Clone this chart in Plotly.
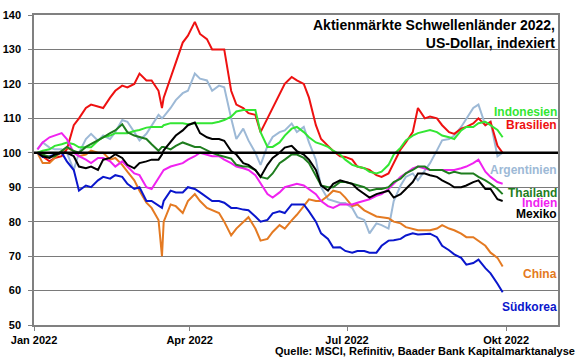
import plotly.graph_objects as go

dates = ["2022-01-03", "2022-01-06", "2022-01-10", "2022-01-13", "2022-01-17", "2022-01-20", "2022-01-24", "2022-01-27", "2022-01-31",
         "2022-02-03", "2022-02-07", "2022-02-10", "2022-02-14", "2022-02-17", "2022-02-21", "2022-02-24", "2022-02-28",
         "2022-03-03", "2022-03-07", "2022-03-10", "2022-03-14", "2022-03-16", "2022-03-17", "2022-03-21", "2022-03-24", "2022-03-28", "2022-03-31",
         "2022-04-04", "2022-04-07", "2022-04-11", "2022-04-14", "2022-04-18", "2022-04-21", "2022-04-25", "2022-04-28",
         "2022-05-02", "2022-05-05", "2022-05-09", "2022-05-12", "2022-05-16", "2022-05-19", "2022-05-23", "2022-05-26", "2022-05-30",
         "2022-06-02", "2022-06-06", "2022-06-09", "2022-06-13", "2022-06-16", "2022-06-20", "2022-06-23", "2022-06-27", "2022-06-30",
         "2022-07-04", "2022-07-07", "2022-07-11", "2022-07-14", "2022-07-18", "2022-07-21", "2022-07-25", "2022-07-28",
         "2022-08-01", "2022-08-04", "2022-08-08", "2022-08-11", "2022-08-15", "2022-08-18", "2022-08-22", "2022-08-25", "2022-08-29",
         "2022-09-01", "2022-09-05", "2022-09-08", "2022-09-12", "2022-09-15", "2022-09-19", "2022-09-22", "2022-09-26", "2022-09-29"]

brasilien = [100, 99, 97.5, 98.5, 99, 101, 108, 110, 113,
             114, 113.5, 113, 116, 118, 119.5, 119, 120,
             123, 121, 121, 118, 113, 116, 122, 126, 132, 134,
             138, 134.5, 133, 130, 130, 130, 118, 114,
             113, 111.5, 111, 106, 110, 113, 117, 120, 122,
             121, 120, 116, 108, 104, 102, 100.5, 99, 98.8,
             98, 96, 95.5, 95, 93.5, 93, 94, 97,
             101, 103, 106, 113, 110, 110.5, 110, 108, 106,
             105.5, 107, 107.5, 108.5, 110, 108, 109, 102, 100]
argentinien = [101, 103, 101.5, 101, 101, 100, 95, 100, 104,
               105.5, 103.5, 105, 104, 106, 109.5, 109, 106,
               103.6, 105.5, 108, 111, 110, 110.5, 113, 115.3, 117.3, 118,
               123, 121.5, 121, 118, 119.5, 119, 110, 104,
               107, 103.6, 100, 96.5, 102, 104.6, 106, 106.5, 108.5,
               106, 107.5, 103, 98, 90, 86.5, 86, 85.4, 85.4,
               84, 81.3, 80.5, 76.6, 79.5, 79, 78, 86,
               90.5, 93, 94, 92, 95, 97, 100.7, 103.6, 104,
               105, 107.5, 110, 113, 114, 108, 109, 99, 100]
indonesien = [100, 100.6, 101, 102, 102.5, 103, 102.5, 101.6, 101.6,
              101.6, 103.5, 104.5, 105, 105.7, 105.7, 105.7, 106.3,
              106.6, 107.3, 107.5, 107.5, 107.5, 108, 108.6, 108.6, 108.6, 108.3,
              108.6, 108.6, 108.6, 108.6, 109, 109.5, 110.5, 112,
              112.4, 112.4, 112.4, 106, 101.7, 101.7, 103, 105, 107,
              107.5, 106, 104.5, 103, 102.5, 101.7, 100.6, 99.5, 98,
              96.5, 96, 95.5, 94.5, 94, 94.5, 96.5, 99.5,
              101.5, 103.6, 105, 105.7, 106.3, 106.6, 106, 105, 104.5,
              104, 106.5, 107.5, 107.5, 108.6, 109, 108, 106.6, 104.5]
thailand = [100, 99.5, 98.8, 99, 100.5, 101.7, 100.5, 100, 101.7,
            102.5, 103.6, 104.5, 105.7, 106.5, 108.3, 106, 105,
            104.5, 104, 102.5, 100.6, 101.7, 101.7, 101, 102, 103, 102.5,
            101.7, 101.7, 100.7, 100, 99.3, 98.8, 98.3, 96.5,
            96, 96, 95, 93, 92.5, 94, 97, 98, 99.5,
            99.5, 98.5, 97, 93.5, 90.5, 90, 90, 91.5, 91.5,
            91, 90.5, 90, 89, 89.5, 89.5, 90, 91.5,
            92.5, 94, 95, 96, 96, 95, 95, 95, 94,
            94.5, 94, 94, 94, 93, 92, 91, 89.5, 88]
mexiko = [100, 99, 98.5, 99.5, 100, 100, 99, 96, 95.5,
          96, 95, 98, 98.5, 99.6, 98.5, 96.5, 95.5,
          97, 97.5, 98, 98, 99.5, 100.7, 103, 105, 106.5, 108,
          108.8, 105.7, 104.5, 104, 104, 103.5, 100.5, 99.5,
          97, 96.5, 95, 93, 96.5, 98.5, 100, 101.5, 102,
          100.5, 99.5, 98, 95, 90.5, 89, 91, 92, 91.5,
          91, 89.5, 88, 87, 88, 88.5, 89, 87,
          88, 89.5, 91.5, 94, 94, 93.5, 93, 92, 91,
          90, 90, 90.5, 91.5, 92, 89.5, 89.5, 86.5, 86]
indien = [101, 103, 104.5, 105, 105.7, 104, 100, 99, 98,
          97, 98.5, 98.5, 97.5, 96, 97.5, 96, 94,
          93.5, 90, 89.5, 92.5, 94, 95, 96, 96.5, 97, 98,
          99, 100, 99.5, 99, 99, 98, 97, 96,
          95.5, 95, 93.5, 91, 88, 87, 88.5, 90, 90.5,
          91, 90.5, 89.5, 88, 86, 84.5, 84, 85, 85,
          85, 85.5, 86, 86.5, 87.5, 88, 89.5, 91,
          93, 94, 95.5, 96, 95.5, 95, 95, 95, 95,
          95, 95.5, 96, 97, 98, 94.5, 93, 91.5, 91]
china = [100, 97, 97, 98.5, 100.5, 101.5, 100.5, 99, 99.5,
         100.6, 100, 100, 98, 98.5, 96.5, 94.5, 92,
         89, 85.5, 84, 80.5, 70, 80, 85, 84.5, 82.5, 86,
         88, 86, 84, 83.3, 82.5, 80, 76, 78,
         80, 81.3, 78, 74.5, 75, 77, 79, 78, 80.4,
         82, 84.5, 86.5, 86, 86, 87.5, 89, 88.5, 87,
         84.5, 85, 83.3, 82.5, 81.5, 81.3, 81, 80,
         79.5, 78.4, 78, 77.5, 77.5, 77.5, 78, 79, 78,
         77.5, 76.5, 75.5, 75.5, 74.5, 73, 71, 69.5, 67]
suedkorea = [100, 98.8, 99, 99.5, 100, 97.5, 95, 89, 90.5,
             90, 92, 93, 92.5, 93.5, 93, 91, 89.5,
             90, 86, 86, 84.5, 84, 86, 89, 88.5, 88.5, 90,
             89.5, 88.5, 87, 86, 86, 85.5, 84, 84,
             83.5, 83.3, 81.5, 80, 80.5, 82.4, 83, 82.5, 85,
             85, 85, 83, 80, 76.6, 75, 72.5, 72.6, 71.5,
             71, 71.5, 71.5, 71, 71, 73, 74.5, 74.6,
             75, 76, 76.6, 76.3, 76.5, 76.5, 75.5, 73, 71.7,
             70.5, 69.5, 67.5, 68, 69, 66.5, 65, 62, 59.5]

tick_vals = ["2022-01-01", "2022-04-01", "2022-07-01", "2022-10-01"]
tick_text = ["Jan 2022", "Apr 2022", "Jul 2022", "Okt 2022"]
y_ticks = [50, 60, 70, 80, 90, 100, 110, 120, 130, 140]

# name, values, colour, label position (in y units)
series = [
    ("Argentinien", argentinien, "#9DB9D6", 94.9),
    ("Brasilien", brasilien, "#EE1111", 108.0),
    ("Indonesien", indonesien, "#33E633", 111.8),
    ("China", china, "#E47A22", 64.7),
    ("Südkorea", suedkorea, "#0A16CC", 55.1),
    ("Indien", indien, "#F022F0", 85.3),
    ("Thailand", thailand, "#1E7D1E", 88.4),
    ("Mexiko", mexiko, "#000000", 82.1),
]

for name, vals, _, _ in series:
    assert len(vals) == len(dates), (name, len(vals), len(dates))

font_family = "Liberation Sans, Arial, sans-serif"

fig = go.Figure()
for name, vals, color, _ in series:
    fig.add_trace(go.Scatter(x=dates, y=vals, mode="lines", name=name,
                             line=dict(color=color, width=2), showlegend=False))

fig.add_shape(type="line", xref="paper", x0=0, x1=1, yref="y", y0=100, y1=100,
              line=dict(color="black", width=2.5))

for name, vals, color, ypos in series:
    fig.add_annotation(x=1, xref="paper", y=ypos, yref="y", text="<b>%s</b>" % name,
                       showarrow=False, xanchor="right", yanchor="middle", xshift=1,
                       font=dict(color=color, size=12, family=font_family))

fig.add_annotation(x=1, xref="paper", y=1.0, yref="paper", yanchor="top", xanchor="right",
                   xshift=-1, yshift=0,
                   text="<b>Aktienmärkte Schwellenländer 2022,<br>US-Dollar, indexiert</b>",
                   showarrow=False, align="right",
                   font=dict(size=14, color="black", family=font_family))

fig.add_annotation(x=1, xref="paper", xanchor="right", y=50, yref="y", yanchor="middle",
                   xshift=19, yshift=-26,
                   text="<b>Quelle: MSCI, Refinitiv, Baader Bank Kapitalmarktanalyse</b>",
                   showarrow=False, font=dict(size=11, color="black", family=font_family))

fig.update_layout(
    width=580, height=359,
    margin=dict(l=34, r=22, t=15, b=34),
    paper_bgcolor="white", plot_bgcolor="white",
    font=dict(family=font_family, color="black"),
    xaxis=dict(type="date", range=["2022-01-01", "2022-10-31"], automargin=False,
               tickvals=tick_vals, ticktext=["<b>%s</b>" % t for t in tick_text],
               tickfont=dict(size=11), showgrid=False, showline=True, linecolor="#808080",
               linewidth=1.5, mirror=True, ticks="outside", ticklen=4, tickcolor="#808080"),
    yaxis=dict(range=[50, 140], automargin=False, tickfont=dict(size=11),
               tickvals=y_ticks, ticktext=["<b>%d</b>" % v for v in y_ticks],
               showgrid=True, gridcolor="#7a7a7a", gridwidth=1, showline=True,
               linecolor="#808080", linewidth=1.5, mirror=True, ticks="outside", ticklen=4,
               tickcolor="#808080", zeroline=False, ticklabelstandoff=5),
)

fig.write_html("out.html", config={"displayModeBar": False},
               post_script="document.body.style.margin='0';")
